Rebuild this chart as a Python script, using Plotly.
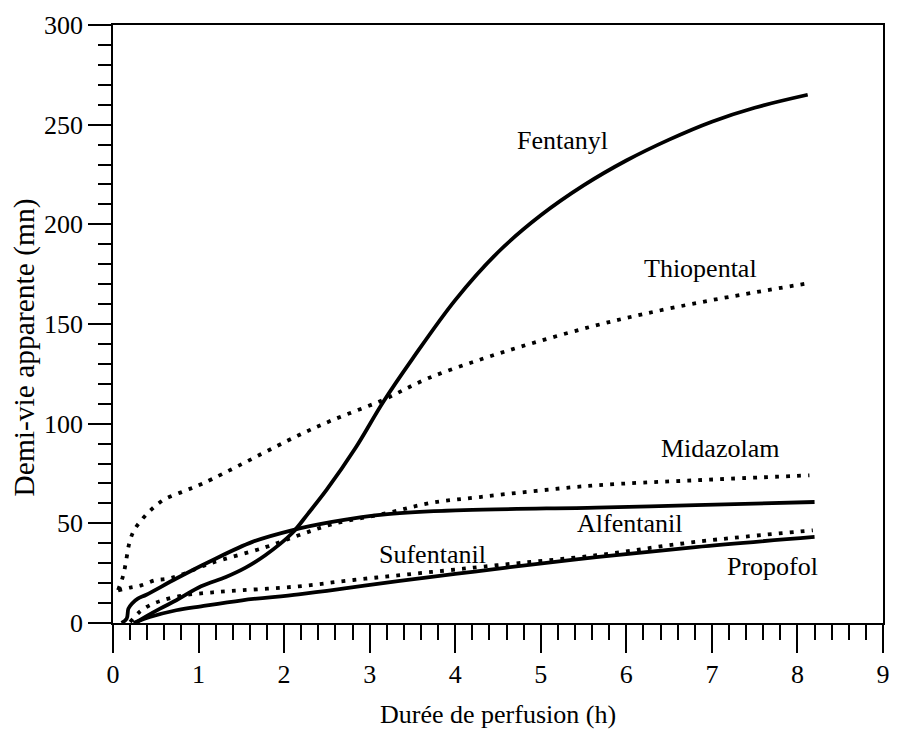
import plotly.graph_objects as go

# ---- data ----
fentanyl_x = [0.27, 0.31, 0.55, 0.74, 1.03, 1.32, 1.55, 1.78, 2.09, 2.28, 2.5, 2.83, 3.16, 3.5, 4.0, 4.5, 5.0, 5.5, 6.0, 6.5, 7.0, 7.5, 8.12]
fentanyl_y = [0.0, 1.3, 7.2, 11.4, 18.4, 23.1, 27.8, 34.0, 44.9, 54.9, 67.0, 87.5, 111.0, 132.5, 162.0, 186.0, 204.5, 219.5, 232.0, 242.5, 251.5, 258.5, 265.0]

thiopental_x = [0.06, 0.12, 0.16, 0.19, 0.24, 0.32, 0.45, 0.60, 0.82, 1.05, 2.17, 2.56, 3.15, 3.68, 4.33, 4.95, 5.61, 6.2, 7.0, 8.12]
thiopental_y = [16.5, 24.0, 33.0, 40.0, 46.0, 51.0, 57.0, 62.0, 66.0, 70.0, 94.2, 101.7, 111.8, 122.7, 132.7, 141.0, 148.9, 155.0, 162.0, 170.4]

midazolam_x = [0.06, 0.20, 0.33, 0.49, 0.62, 0.76, 1.13, 1.78, 2.17, 2.56, 3.21, 3.71, 4.29, 4.95, 5.65, 6.81, 8.14]
midazolam_y = [16.4, 17.8, 18.9, 21.4, 22.1, 23.6, 29.8, 38.0, 44.0, 49.5, 55.2, 60.2, 63.2, 66.3, 69.1, 71.6, 74.1]

alfentanil_x = [0.10, 0.16, 0.18, 0.22, 0.29, 0.39, 0.74, 1.12, 1.63, 2.09, 2.56, 3.21, 4.10, 5.65, 6.81, 8.2]
alfentanil_y = [0.0, 2.2, 7.2, 9.7, 12.2, 14.2, 22.3, 30.6, 40.7, 46.5, 50.7, 54.6, 56.6, 57.9, 59.1, 60.7]

sufentanil_x = [0.24, 0.43, 0.74, 1.03, 1.51, 2.17, 2.75, 3.33, 4.0, 4.6, 5.65, 6.81, 8.2]
sufentanil_y = [0.0, 3.0, 6.4, 8.4, 11.4, 14.4, 17.6, 21.0, 24.6, 27.8, 33.0, 38.1, 43.2]

propofol_x = [0.20, 0.31, 0.43, 0.58, 0.83, 1.09, 1.32, 2.17, 2.75, 3.33, 3.91, 4.49, 5.65, 6.81, 8.18]
propofol_y = [0.5, 5.5, 8.9, 11.4, 13.9, 15.1, 15.9, 18.4, 21.3, 23.9, 26.4, 29.0, 34.0, 40.7, 46.5]

label_names = ["Fentanyl", "Thiopental", "Midazolam", "Alfentanil", "Sufentanil", "Propofol"]
label_x = [5.25, 6.87, 7.09, 6.04, 3.74, 7.71]
label_y = [242.3, 178.0, 87.6, 50.0, 34.5, 28.5]

x_title = "Durée de perfusion (h)"
y_title = "Demi-vie apparente (mn)"

FONT = "Liberation Serif"
SOLID = dict(color="black", width=3.8, shape="spline", smoothing=1.0)
DOT = dict(color="black", width=3.8, dash="3.8px,7.2px", shape="spline", smoothing=1.0)

fig = go.Figure()
series = [
    ("Fentanyl", fentanyl_x, fentanyl_y, SOLID),
    ("Thiopental", thiopental_x, thiopental_y, DOT),
    ("Midazolam", midazolam_x, midazolam_y, DOT),
    ("Alfentanil", alfentanil_x, alfentanil_y, SOLID),
    ("Sufentanil", sufentanil_x, sufentanil_y, SOLID),
    ("Propofol", propofol_x, propofol_y, DOT),
]
for name, xs, ys, style in series:
    fig.add_trace(go.Scatter(x=xs, y=ys, mode="lines", name=name, line=style, showlegend=False))

for n, lx, ly in zip(label_names, label_x, label_y):
    fig.add_annotation(x=lx, y=ly, text=n, showarrow=False,
                       font=dict(family=FONT, size=26, color="black"),
                       xanchor="center", yanchor="middle")

fig.add_annotation(xref="paper", yref="paper", x=0.5, y=-0.153, text=x_title, showarrow=False,
                   font=dict(family=FONT, size=26, color="black"), xanchor="center", yanchor="middle")
fig.add_annotation(xref="paper", yref="paper", x=-0.1145, y=0.4604, text=y_title, showarrow=False,
                   textangle=-90, font=dict(family=FONT, size=29.5, color="black"),
                   xanchor="center", yanchor="middle")

axis_common = dict(showline=True, linecolor="black", linewidth=1.5, mirror=True,
                   ticks="outside", tickcolor="black", tickwidth=1.5,
                   showgrid=False, zeroline=False,
                   tickfont=dict(family=FONT, size=26, color="black"))

fig.update_xaxes(range=[0, 9], tick0=0, dtick=1, ticklen=28, ticklabelstandoff=-1,
                 minor=dict(ticks="outside", ticklen=15, dtick=0.2, tick0=0, tickcolor="black", tickwidth=1.5, showgrid=False),
                 **axis_common)
fig.update_yaxes(range=[0, 300], tick0=0, dtick=50, ticklen=23,
                 minor=dict(ticks="outside", ticklen=13, dtick=10, tick0=0, tickcolor="black", tickwidth=1.5, showgrid=False),
                 **axis_common)

fig.update_layout(width=899, height=731, plot_bgcolor="white", paper_bgcolor="white",
                  margin=dict(l=113, r=9, t=25, b=108.3),
                  font=dict(family=FONT, color="black"))

fig.write_html("out.html", config={"displayModeBar": False},
               post_script="document.body.style.margin='0';document.body.style.padding='0';")
